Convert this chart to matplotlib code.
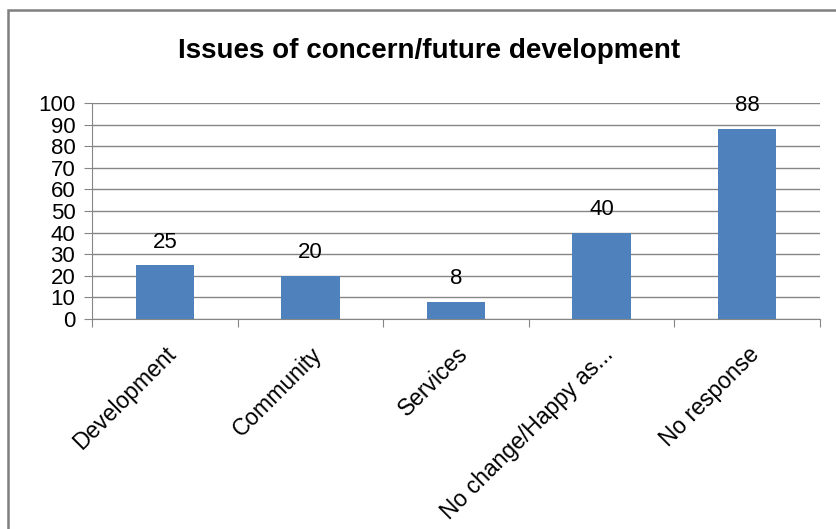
import matplotlib.pyplot as plt
from matplotlib.patches import Rectangle

# data
categories = ["Development", "Community", "Services", "No change/Happy as...", "No response"]
values = [25, 20, 8, 40, 88]
yticks = [0, 10, 20, 30, 40, 50, 60, 70, 80, 90, 100]

plt.rcParams["font.family"] = ["Liberation Sans", "DejaVu Sans"]

W, H = 837, 529
fig = plt.figure(figsize=(W / 100, H / 100), dpi=100)

# chart area border
fig.patches.append(Rectangle((8 / W, -0.1), 1.2, 1.1 - 10 / H,
                             transform=fig.transFigure, fill=False,
                             edgecolor="#7f7f7f", linewidth=1.8))

ax = fig.add_axes([92 / W, 1 - 319 / H, (820 - 92) / W, (319 - 103) / H])

x = list(range(len(categories)))
bars = ax.bar(x, values, width=0.4, color="#4F81BD", zorder=3)

for xi, v in zip(x, values):
    ax.annotate(str(v), (xi, v), xytext=(0, 9), textcoords="offset points",
                ha="center", va="bottom", fontsize=16)

ax.set_xlim(-0.5, len(categories) - 0.5)
ax.set_ylim(0, 100)
ax.set_yticks(yticks)
ax.set_yticklabels([str(t) for t in yticks], fontsize=16)
ax.tick_params(axis="y", length=6, color="#868686", pad=6)
ax.yaxis.grid(True, color="#868686", linewidth=1)
ax.set_axisbelow(True)

# category boundaries get the ticks, labels sit at the centres
ax.set_xticks([i - 0.5 for i in range(len(categories) + 1)])
ax.set_xticklabels([])
ax.tick_params(axis="x", length=6, color="#868686")
ax.set_xticks(x, minor=True)
ax.set_xticklabels(categories, minor=True, rotation=45, ha="right",
                   rotation_mode="anchor", fontsize=16.5)
ax.tick_params(axis="x", which="minor", length=0, pad=17)

for s in ["top", "right"]:
    ax.spines[s].set_visible(False)
for s in ["left", "bottom"]:
    ax.spines[s].set_color("#868686")

fig.text(429 / W, 1 - 51 / H, "Issues of concern/future development",
         ha="center", va="center", fontsize=20, fontweight="bold")

fig.savefig("out.png", dpi=100)
